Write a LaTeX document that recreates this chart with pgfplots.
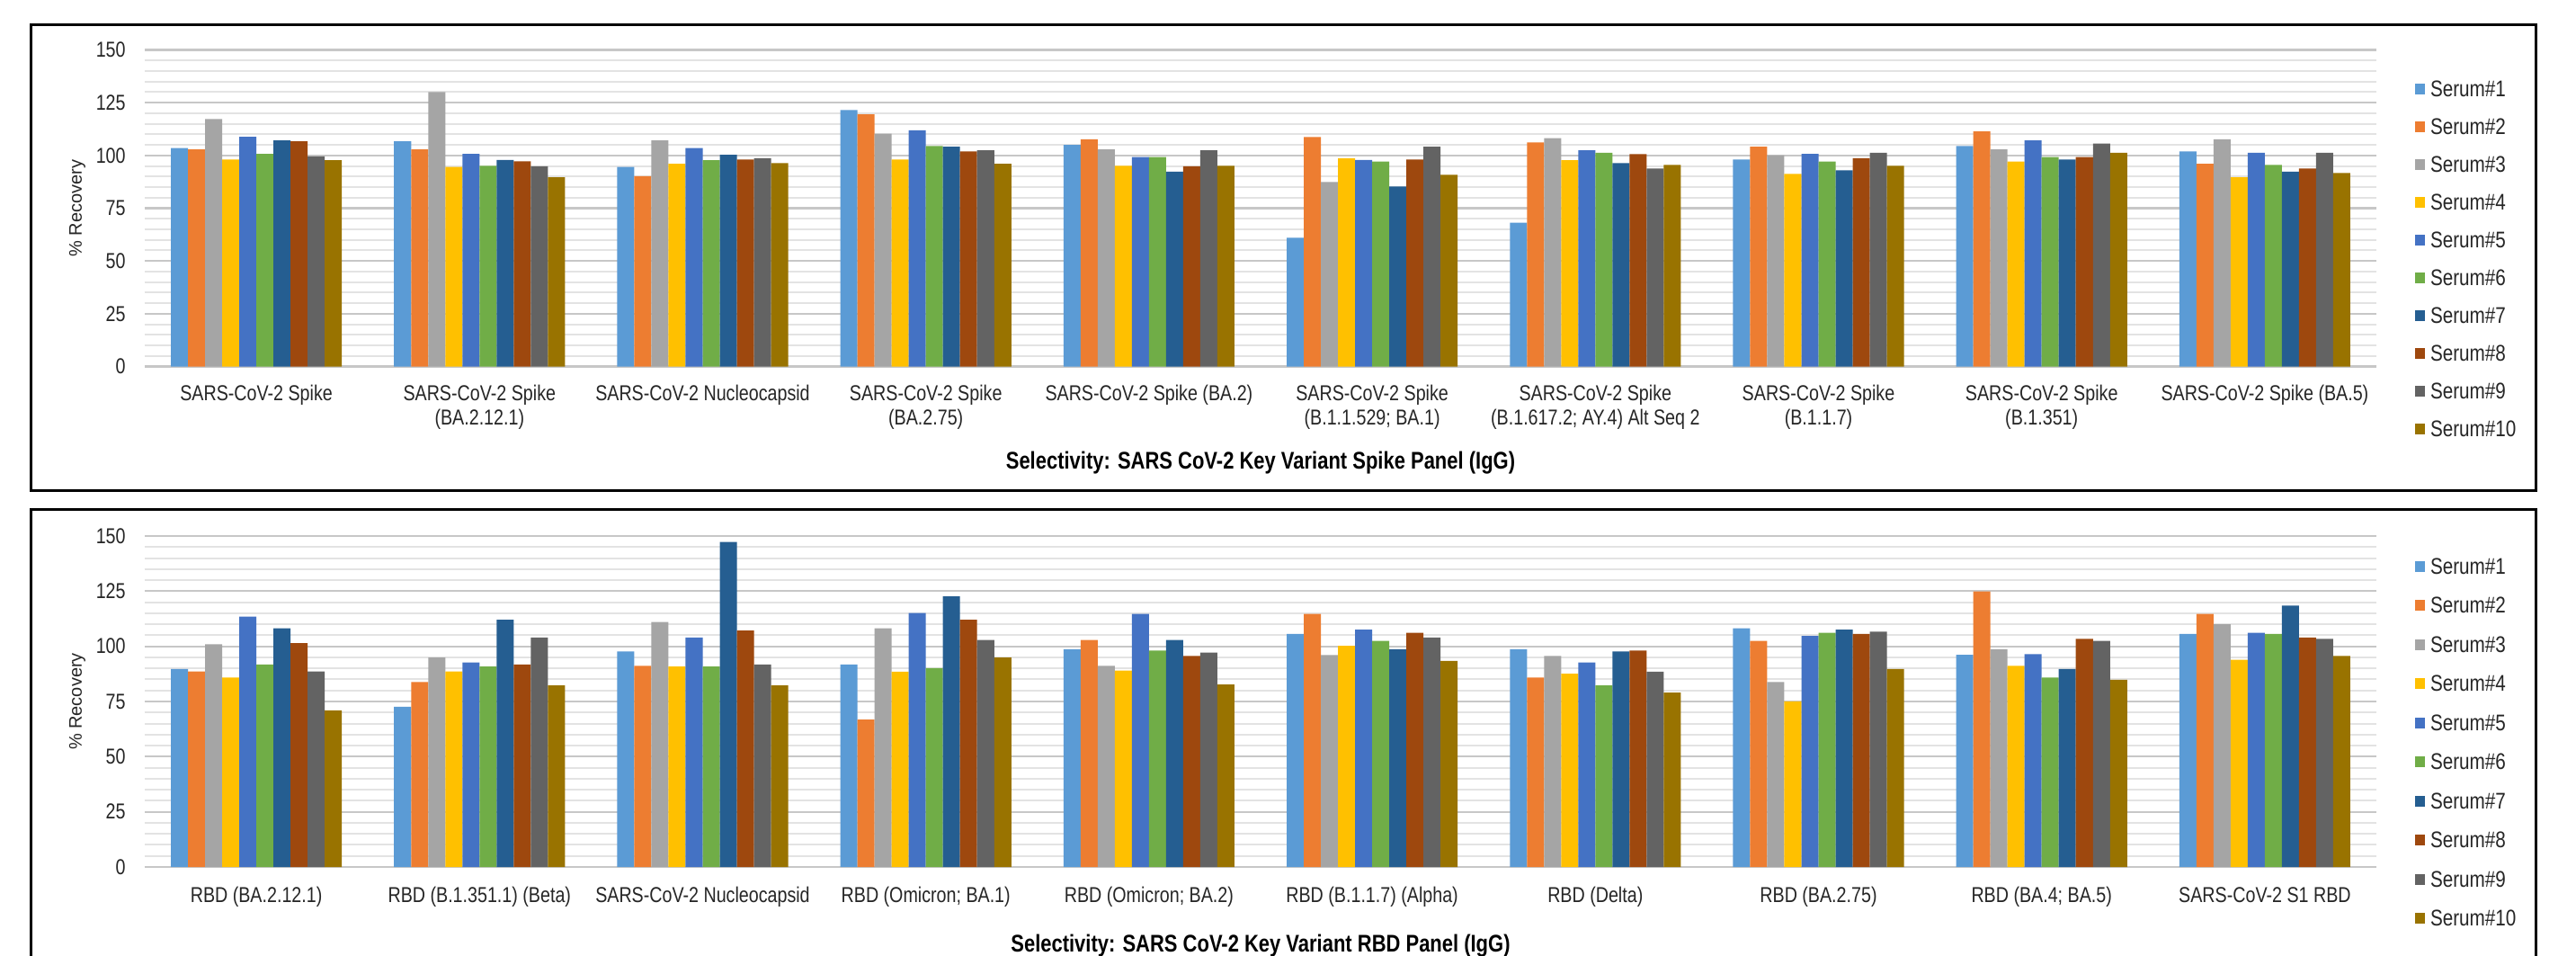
\documentclass[border=0pt]{standalone}
\usepackage{fontspec}
\setmainfont[FakeStretch=0.82]{Liberation Sans}
\newfontfamily\widefont{Liberation Sans}
\usepackage{pgfplots}
\usepackage{pgfplotstable}
\pgfplotsset{compat=1.18}

% Office palette, one colour per serum
\definecolor{c1}{HTML}{5B9BD5}
\definecolor{c2}{HTML}{ED7D31}
\definecolor{c3}{HTML}{A5A5A5}
\definecolor{c4}{HTML}{FFC000}
\definecolor{c5}{HTML}{4472C4}
\definecolor{c6}{HTML}{70AD47}
\definecolor{c7}{HTML}{255E91}
\definecolor{c8}{HTML}{9E480E}
\definecolor{c9}{HTML}{636363}
\definecolor{c10}{HTML}{997300}

% % recovery, spike panel (IgG)
\pgfplotstableread{
x s1 s2 s3 s4 s5 s6 s7 s8 s9 s10
0 103.5 102.9 117.2 98.1 108.8 100.7 107.1 106.7 99.6 97.7
1 106.7 102.9 130.0 94.5 100.7 95.1 97.8 97.2 94.9 89.7
2 94.5 90.2 107.1 96.0 103.5 97.7 100.3 98.1 98.7 96.4
3 121.5 119.5 110.3 98.1 111.9 104.5 104.1 101.9 102.4 96.0
4 105.0 107.6 102.9 95.1 99.2 99.2 92.3 94.9 102.4 95.1
5 61.0 108.7 87.4 98.6 97.8 97.1 85.3 98.1 104.1 90.8
6 68.1 106.2 108.2 97.7 102.4 101.3 96.4 100.6 93.8 95.5
7 98.1 104.1 100.1 91.3 100.7 97.1 92.9 98.7 101.3 95.1
8 104.5 111.4 102.9 97.1 107.1 99.2 98.1 99.2 105.6 101.3
9 101.9 96.0 107.7 89.7 101.3 95.5 92.3 93.8 101.3 91.7
}\spiketable

% % recovery, RBD panel (IgG)
\pgfplotstableread{
x s1 s2 s3 s4 s5 s6 s7 s8 s9 s10
0 89.7 88.6 100.9 85.9 113.5 91.8 108.2 101.4 88.6 71.0
1 72.6 83.8 94.9 88.6 92.7 90.8 112.0 91.8 104.0 82.3
2 97.7 91.2 111.0 90.8 104.0 90.8 147.3 107.2 91.8 82.3
3 91.8 66.8 108.2 88.5 115.1 90.1 122.6 112.0 102.9 94.9
4 98.7 102.9 91.2 89.0 114.7 98.1 102.9 95.6 97.2 82.7
5 105.6 114.7 96.0 100.2 107.6 102.5 98.7 106.1 104.0 93.4
6 98.7 85.9 95.6 87.6 92.7 82.3 97.7 98.1 88.5 79.0
7 108.2 102.5 83.8 75.1 104.7 106.1 107.6 105.6 106.6 89.7
8 96.1 124.9 98.7 91.2 96.5 85.9 89.7 103.4 102.5 84.8
9 105.6 114.7 110.0 93.9 106.1 105.6 118.5 104.0 103.4 95.6
}\rbdtable

\pgfplotsset{
  panel/.style={
    scale only axis, width=1241pt, anchor=south west,
    xmin=-0.5, xmax=9.5, ymin=0, ymax=150,
    ybar=0pt, bar width=0.0766,
    xtick={0,...,9}, ytick={0,25,...,150}, minor y tick num=4,
    ymajorgrids, yminorgrids,
    major grid style={draw=black!22, line width=1.1pt},
    minor grid style={draw=black!11, line width=1pt},
    axis line style={draw=none},
    major tick length=0pt, minor tick length=0pt,
    tick label style={font=\fontsize{12}{13.4}\selectfont, inner sep=0pt, text=black!85},
    /pgf/number format/assume math mode=true,
    xticklabel style={align=center, anchor=north},
    yticklabel style={anchor=east, xshift=-10.5pt},
    ylabel={\% Recovery},
    every axis y label/.style={at={(axis description cs:0,0.5)}, xshift=-37.5pt, rotate=90, anchor=center, font=\widefont\fontsize{10}{12}\selectfont, text=black!85},
    legend image code/.code={\fill[##1] (0pt,-1.7pt) rectangle (5.5pt,4.3pt);},
    legend cell align=left,
    legend style={at={(1,1)}, anchor=north west, xshift=21.5pt, draw=none, fill=none,
      inner sep=0pt, outer sep=0pt, column sep=3pt,
      font=\fontsize{12.6}{14}\selectfont, text=black!85,
      nodes={inner sep=0pt, text height=8.5pt, text depth=2.5pt}},
    clip=false,
  },
}

\newcommand{\serums}[1]{%
  \addplot[fill=c1, draw=none] table[x=x, y=s1] {#1};
  \addplot[fill=c2, draw=none] table[x=x, y=s2] {#1};
  \addplot[fill=c3, draw=none] table[x=x, y=s3] {#1};
  \addplot[fill=c4, draw=none] table[x=x, y=s4] {#1};
  \addplot[fill=c5, draw=none] table[x=x, y=s5] {#1};
  \addplot[fill=c6, draw=none] table[x=x, y=s6] {#1};
  \addplot[fill=c7, draw=none] table[x=x, y=s7] {#1};
  \addplot[fill=c8, draw=none] table[x=x, y=s8] {#1};
  \addplot[fill=c9, draw=none] table[x=x, y=s9] {#1};
  \addplot[fill=c10, draw=none] table[x=x, y=s10] {#1};
  \legend{Serum\#1, Serum\#2, Serum\#3, Serum\#4, Serum\#5, Serum\#6, Serum\#7, Serum\#8, Serum\#9, Serum\#10}
}

\begin{document}
\begin{tikzpicture}
\useasboundingbox (0pt,0pt) rectangle (1432.5pt,531pt);
\fill[white] (0pt,0pt) rectangle (1432.5pt,531pt);

% panel frames
\draw[line width=1.5pt] (17.25pt,258.35pt) rectangle (1410pt,517pt);
\draw[line width=1.5pt] (17.25pt,-12pt) rectangle (1410pt,247.6pt);

% spike panel
\begin{axis}[panel, at={(80.5pt,327.25pt)}, height=176pt,
  xticklabel style={yshift=-10pt},
  legend style={yshift=-17.55pt, row sep=10pt},
  xticklabels={
    {SARS-CoV-2 Spike},
    {SARS-CoV-2 Spike\\(BA.2.12.1)},
    {SARS-CoV-2 Nucleocapsid},
    {SARS-CoV-2 Spike\\(BA.2.75)},
    {SARS-CoV-2 Spike (BA.2)},
    {SARS-CoV-2 Spike\\(B.1.1.529; BA.1)},
    {SARS-CoV-2 Spike\\(B.1.617.2; AY.4) Alt Seq 2},
    {SARS-CoV-2 Spike\\(B.1.1.7)},
    {SARS-CoV-2 Spike\\(B.1.351)},
    {SARS-CoV-2 Spike (BA.5)}}]
\serums{\spiketable}
\node[font=\bfseries\fontsize{13.4}{16}\selectfont, inner sep=0pt, yshift=-53.5pt]
  at (rel axis cs:0.5,0) {Selectivity: SARS CoV-2 Key Variant Spike Panel (IgG)};
\end{axis}

% RBD panel
\begin{axis}[panel, at={(80.5pt,49pt)}, height=184pt,
  xticklabel style={yshift=-11pt},
  legend style={yshift=-12.55pt, row sep=10.75pt},
  xticklabels={
    {RBD (BA.2.12.1)},
    {RBD (B.1.351.1) (Beta)},
    {SARS-CoV-2 Nucleocapsid},
    {RBD (Omicron; BA.1)},
    {RBD (Omicron; BA.2)},
    {RBD (B.1.1.7) (Alpha)},
    {RBD (Delta)},
    {RBD (BA.2.75)},
    {RBD (BA.4; BA.5)},
    {SARS-CoV-2 S1 RBD}}]
\serums{\rbdtable}
\node[font=\bfseries\fontsize{13.4}{16}\selectfont, inner sep=0pt, yshift=-43.8pt]
  at (rel axis cs:0.5,0) {Selectivity: SARS CoV-2 Key Variant RBD Panel (IgG)};
\end{axis}
\end{tikzpicture}
\end{document}
